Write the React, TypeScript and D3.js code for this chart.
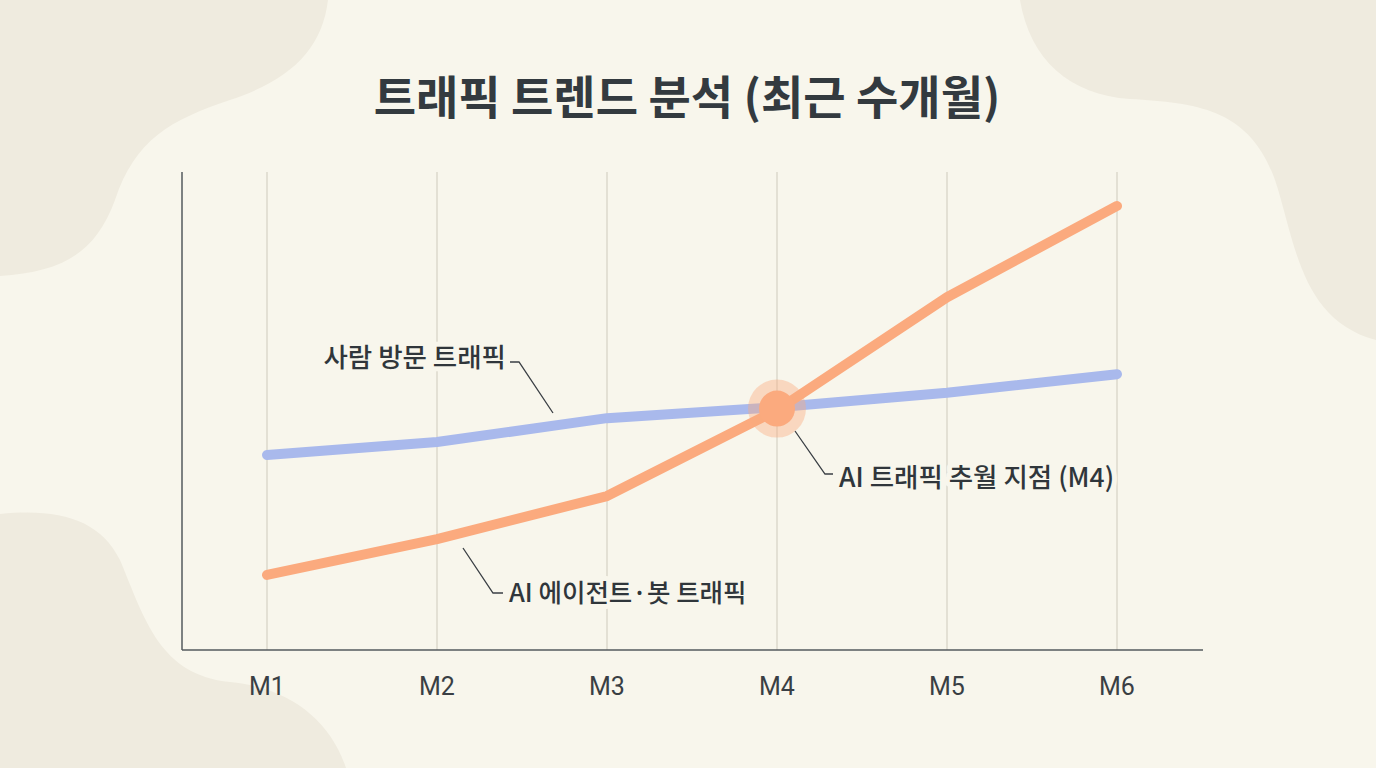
import * as d3 from "d3";
import React, { useEffect, useRef } from "react";

const months = ["M1", "M2", "M3", "M4", "M5", "M6"];
const humanTraffic = [40.8, 43.5, 48.5, 50.8, 53.8, 57.7];
const aiTraffic = [15.7, 23.2, 32.2, 50.2, 73.8, 92.9];
const crossIndex = 3;

const title = "트래픽 트렌드 분석 (최근 수개월)";
const humanLabel = "사람 방문 트래픽";
const aiLabel = "AI 에이전트·봇 트래픽";
const crossLabel = "AI 트래픽 추월 지점 (M4)";

const W = 1376;
const H = 768;
const BG = "#f8f6ec";
const BLOB = "#efebdf";
const KR = "'Noto Sans CJK KR', 'Noto Sans', sans-serif";

export default function App() {
  const ref = useRef<SVGSVGElement | null>(null);

  useEffect(() => {
    const svg = d3.select(ref.current);
    svg.selectAll("*").remove();

    svg.append("rect").attr("width", W).attr("height", H).attr("fill", BG);

    // soft corner blobs
    const blobs = [
      "M0,0 L328,0 C322,50 290,80 230,100 C170,120 135,140 115,200 C95,255 60,272 0,276 Z",
      "M1020,0 C1030,60 1070,95 1130,99 C1200,103 1250,110 1275,180 C1295,240 1300,320 1376,340 L1376,0 Z",
      "M0,514 C60,508 100,520 120,560 C145,620 160,675 230,682 C290,688 330,720 346,768 L0,768 Z",
    ];
    svg
      .append("g")
      .selectAll("path")
      .data(blobs)
      .enter()
      .append("path")
      .attr("d", (d) => d)
      .attr("fill", BLOB);

    const x = d3.scalePoint<string>().domain(months).range([267, 1117]);
    const y = d3.scaleLinear().domain([0, 100]).range([650, 172]);

    // title
    svg
      .append("text")
      .attr("x", 687)
      .attr("y", 114)
      .attr("text-anchor", "middle")
      .attr("font-family", KR)
      .attr("font-weight", 700)
      .attr("font-size", 46)
      .attr("fill", "#333a3f")
      .text(title);

    // grid lines
    svg
      .append("g")
      .selectAll("line")
      .data(months)
      .enter()
      .append("line")
      .attr("x1", (d) => x(d)!)
      .attr("x2", (d) => x(d)!)
      .attr("y1", y(100))
      .attr("y2", y(0))
      .attr("stroke", "#dcd8cc")
      .attr("stroke-width", 1.5);

    // axes
    const axisG = svg.append("g");
    axisG
      .append("line")
      .attr("x1", 182)
      .attr("x2", 182)
      .attr("y1", y(100))
      .attr("y2", y(0))
      .attr("stroke", "#555a5e")
      .attr("stroke-width", 1.5);
    axisG
      .append("line")
      .attr("x1", 182)
      .attr("x2", 1203)
      .attr("y1", y(0))
      .attr("y2", y(0))
      .attr("stroke", "#555a5e")
      .attr("stroke-width", 1.5);

    svg
      .append("g")
      .selectAll("text")
      .data(months)
      .enter()
      .append("text")
      .attr("x", (d) => x(d)!)
      .attr("y", 695)
      .attr("text-anchor", "middle")
      .attr("font-family", "Roboto, sans-serif")
      .attr("font-size", 25)
      .attr("fill", "#3a3f44")
      .text((d) => d);

    // leader lines
    const leaders = [
      [[510, 362], [519, 362], [553, 413]],
      [[463, 548], [493, 593], [503, 593]],
      [[795, 431], [825, 474], [833, 474]],
    ];
    svg
      .append("g")
      .selectAll("path")
      .data(leaders)
      .enter()
      .append("path")
      .attr("d", (d) => d3.line()(d as [number, number][]))
      .attr("fill", "none")
      .attr("stroke", "#3a3f44")
      .attr("stroke-width", 1.3);

    // labels with background halo
    const labels = [
      { t: humanLabel, x: 506, y: 357, a: "end", s: 26.5 },
      { t: aiLabel, x: 509, y: 593, a: "start", s: 25.5 },
      { t: crossLabel, x: 839, y: 477, a: "start", s: 26.5 },
    ];
    svg
      .append("g")
      .selectAll("text")
      .data(labels)
      .enter()
      .append("text")
      .attr("x", (d) => d.x)
      .attr("y", (d) => d.y)
      .attr("dy", "0.36em")
      .attr("text-anchor", (d) => d.a)
      .attr("font-family", KR)
      .attr("font-weight", 500)
      .attr("font-size", (d) => d.s)
      .attr("fill", "#30363b")
      .attr("stroke", BG)
      .attr("stroke-width", 10)
      .attr("stroke-linejoin", "round")
      .attr("paint-order", "stroke")
      .text((d) => d.t);

    const line = d3
      .line<number>()
      .x((_, i) => x(months[i])!)
      .y((d) => y(d));

    svg
      .append("path")
      .datum(humanTraffic)
      .attr("d", line)
      .attr("fill", "none")
      .attr("stroke", "#a9b9ec")
      .attr("stroke-width", 10)
      .attr("stroke-linecap", "round")
      .attr("stroke-linejoin", "round");

    svg
      .append("path")
      .datum(aiTraffic)
      .attr("d", line)
      .attr("fill", "none")
      .attr("stroke", "#fbaa7e")
      .attr("stroke-width", 10)
      .attr("stroke-linecap", "round")
      .attr("stroke-linejoin", "round");

    // crossover marker
    const cx = x(months[crossIndex])!;
    const cy = y((humanTraffic[crossIndex] + aiTraffic[crossIndex]) / 2);
    svg
      .append("circle")
      .attr("cx", cx)
      .attr("cy", cy)
      .attr("r", 29)
      .attr("fill", "#fbaa7e")
      .attr("fill-opacity", 0.4);
    svg
      .append("circle")
      .attr("cx", cx)
      .attr("cy", cy)
      .attr("r", 18)
      .attr("fill", "#fbaa7e");
  }, []);

  return (
    <svg
      ref={ref}
      width={W}
      height={H}
      style={{ position: "absolute", left: 0, top: 0, display: "block" }}
    />
  );
}
